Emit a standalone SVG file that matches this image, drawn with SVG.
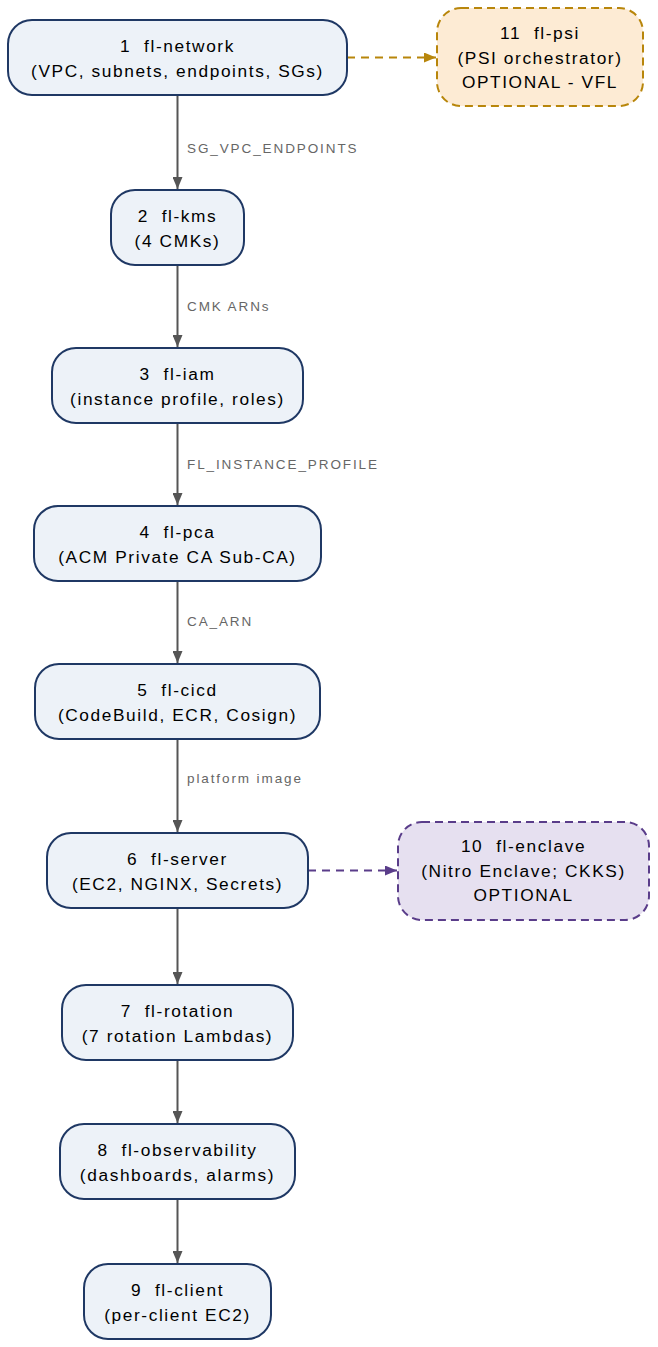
<svg xmlns="http://www.w3.org/2000/svg" width="658" height="1347" viewBox="0 0 658 1347" xml:space="preserve">
<style>
.n rect{fill:#edf2f8;stroke:#1f3864;stroke-width:2}
.psi rect{fill:#fdebd4;stroke:#b8860b;stroke-width:2;stroke-dasharray:8,5}
.enc rect{fill:#e6e0f0;stroke:#5a3d8a;stroke-width:2;stroke-dasharray:8,5}
text{font-family:"Liberation Sans",Arial,sans-serif;white-space:pre}
.t{font-size:17.3px;letter-spacing:1.6px;fill:#000;text-anchor:middle}
.l{font-size:13.5px;letter-spacing:1.9px;fill:#666}
.e{stroke:#555;stroke-width:2;fill:none}
.ep{stroke:#b8860b;stroke-width:2;fill:none;stroke-dasharray:8,6}
.ee{stroke:#5a3d8a;stroke-width:2;fill:none;stroke-dasharray:8,6}
</style>
<defs>
<marker id="ag" markerWidth="12" markerHeight="10" refX="12" refY="5" orient="auto" markerUnits="userSpaceOnUse"><path d="M0,0L12,5L0,10Z" fill="#555"/></marker>
<marker id="ao" markerWidth="12" markerHeight="10" refX="12" refY="5" orient="auto" markerUnits="userSpaceOnUse"><path d="M0,0L12,5L0,10Z" fill="#b8860b"/></marker>
<marker id="ap" markerWidth="12" markerHeight="10" refX="12" refY="5" orient="auto" markerUnits="userSpaceOnUse"><path d="M0,0L12,5L0,10Z" fill="#5a3d8a"/></marker>
</defs>
<g id="edges">
<line class="e" x1="177.5" y1="95" x2="177.5" y2="189" marker-end="url(#ag)"/>
<text class="l" x="187" y="153">SG_VPC_ENDPOINTS</text>
<line class="e" x1="177.5" y1="265" x2="177.5" y2="347" marker-end="url(#ag)"/>
<text class="l" x="187" y="311">CMK ARNs</text>
<line class="e" x1="177.5" y1="423" x2="177.5" y2="505" marker-end="url(#ag)"/>
<text class="l" x="187" y="469">FL_INSTANCE_PROFILE</text>
<line class="e" x1="177.5" y1="581" x2="177.5" y2="663" marker-end="url(#ag)"/>
<text class="l" x="187" y="626">CA_ARN</text>
<line class="e" x1="177.5" y1="739" x2="177.5" y2="832" marker-end="url(#ag)"/>
<text class="l" x="187" y="783">platform image</text>
<line class="e" x1="177.5" y1="908" x2="177.5" y2="984" marker-end="url(#ag)"/>
<line class="e" x1="177.5" y1="1060" x2="177.5" y2="1123" marker-end="url(#ag)"/>
<line class="e" x1="177.5" y1="1199" x2="177.5" y2="1263" marker-end="url(#ag)"/>
<line class="ep" x1="347" y1="57.5" x2="436" y2="57.5" marker-end="url(#ao)"/>
<line class="ee" x1="308" y1="870.5" x2="397" y2="870.5" marker-end="url(#ap)"/>
</g>
<g id="n1" class="n"><rect x="8" y="20" width="339" height="75" rx="24"/><text class="t" x="177.5" y="52">1  fl-network</text><text class="t" x="177.5" y="76.5">(VPC, subnets, endpoints, SGs)</text></g>
<g id="n2" class="n"><rect x="111" y="190" width="133" height="75" rx="24"/><text class="t" x="177.5" y="222">2  fl-kms</text><text class="t" x="177.5" y="246.5">(4 CMKs)</text></g>
<g id="n3" class="n"><rect x="52" y="348" width="251" height="75" rx="24"/><text class="t" x="177.5" y="380">3  fl-iam</text><text class="t" x="177.5" y="404.5">(instance profile, roles)</text></g>
<g id="n4" class="n"><rect x="34" y="506" width="287" height="75" rx="24"/><text class="t" x="177.5" y="538">4  fl-pca</text><text class="t" x="177.5" y="562.5">(ACM Private CA Sub-CA)</text></g>
<g id="n5" class="n"><rect x="35" y="664" width="285" height="75" rx="24"/><text class="t" x="177.5" y="696">5  fl-cicd</text><text class="t" x="177.5" y="720.5">(CodeBuild, ECR, Cosign)</text></g>
<g id="n6" class="n"><rect x="47" y="833" width="261" height="75" rx="24"/><text class="t" x="177.5" y="865">6  fl-server</text><text class="t" x="177.5" y="889.5">(EC2, NGINX, Secrets)</text></g>
<g id="n7" class="n"><rect x="62" y="985" width="231" height="75" rx="24"/><text class="t" x="177.5" y="1017">7  fl-rotation</text><text class="t" x="177.5" y="1041.5">(7 rotation Lambdas)</text></g>
<g id="n8" class="n"><rect x="60" y="1124" width="235" height="75" rx="24"/><text class="t" x="177.5" y="1156">8  fl-observability</text><text class="t" x="177.5" y="1180.5">(dashboards, alarms)</text></g>
<g id="n9" class="n"><rect x="84" y="1264" width="187" height="75" rx="24"/><text class="t" x="177.5" y="1296">9  fl-client</text><text class="t" x="177.5" y="1320.5">(per-client EC2)</text></g>
<g id="n10" class="enc"><rect x="398" y="822" width="251" height="98" rx="24"/><text class="t" x="523.5" y="852">10  fl-enclave</text><text class="t" x="523.5" y="876.5">(Nitro Enclave; CKKS)</text><text class="t" x="523.5" y="901">OPTIONAL</text></g>
<g id="n11" class="psi"><rect x="437" y="8" width="206" height="98" rx="24"/><text class="t" x="540" y="39">11  fl-psi</text><text class="t" x="540" y="63.5">(PSI orchestrator)</text><text class="t" x="540" y="88">OPTIONAL - VFL</text></g>
</svg>
